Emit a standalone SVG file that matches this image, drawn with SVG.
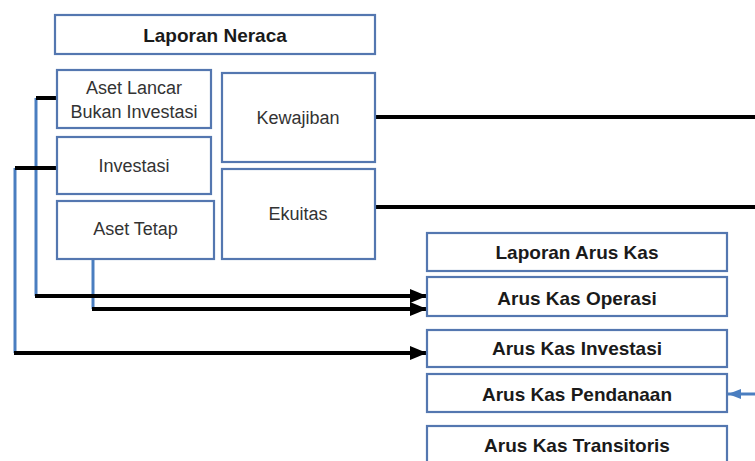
<svg xmlns="http://www.w3.org/2000/svg" width="755" height="461" viewBox="0 0 755 461">
<defs>
<style>
.box{fill:#fff;stroke:#5477b0;stroke-width:2.2}
.t{font-family:"Liberation Sans",Arial,sans-serif;font-size:18px;fill:#333;text-anchor:middle}
.b{font-family:"Liberation Sans",Arial,sans-serif;font-size:19px;font-weight:bold;fill:#1a1a1a;text-anchor:middle}
.k{fill:none;stroke:#000;stroke-width:4}
.bl{fill:none;stroke:#4a7ec0;stroke-width:3}
</style>
<marker id="ah" markerUnits="userSpaceOnUse" markerWidth="18" markerHeight="14" refX="17" refY="7" orient="auto">
<path d="M0,0 L17,7 L0,14 Z" fill="#000"/>
</marker>
<marker id="ahb" markerUnits="userSpaceOnUse" markerWidth="14" markerHeight="10" refX="13" refY="5" orient="auto">
<path d="M0,0 L13,5 L0,10 Z" fill="#4a7ec0"/>
</marker>
</defs>
<rect width="755" height="461" fill="#fff"/>
<g id="connectors">
<path class="k" d="M375,117 H755"/>
<path class="k" d="M375,207 H755"/>
<path class="bl" d="M36,98 V296"/>
<path class="bl" d="M15,168 V353"/>
<path class="bl" d="M93,259 V309"/>
<path class="k" d="M36,98 H57"/>
<path class="k" d="M15,168 H57"/>
<path class="k" d="M35,296 H427" marker-end="url(#ah)"/>
<path class="k" d="M92,309 H427" marker-end="url(#ah)"/>
<path class="k" d="M14,353 H427" marker-end="url(#ah)"/>
<path class="bl" d="M755,394 H728" marker-end="url(#ahb)"/>
</g>
<g id="laporan-neraca"><rect class="box" x="55" y="15" width="320" height="39"/><text class="b" x="215" y="42">Laporan Neraca</text></g>
<g id="aset-lancar"><rect class="box" x="57" y="70" width="154" height="58"/><text class="t" x="134" y="94">Aset Lancar</text><text class="t" x="134" y="118">Bukan Investasi</text></g>
<g id="investasi"><rect class="box" x="57" y="137" width="154" height="57"/><text class="t" x="134" y="172">Investasi</text></g>
<g id="aset-tetap"><rect class="box" x="57" y="201" width="157" height="58"/><text class="t" x="135.5" y="235">Aset Tetap</text></g>
<g id="kewajiban"><rect class="box" x="222" y="73" width="153" height="89"/><text class="t" x="298" y="124">Kewajiban</text></g>
<g id="ekuitas"><rect class="box" x="222" y="169" width="153" height="90"/><text class="t" x="298" y="220">Ekuitas</text></g>
<g id="laporan-arus-kas"><rect class="box" x="427" y="233" width="300" height="38"/><text class="b" x="577" y="259">Laporan Arus Kas</text></g>
<g id="arus-kas-operasi"><rect class="box" x="427" y="277" width="300" height="39"/><text class="b" x="577" y="305">Arus Kas Operasi</text></g>
<g id="arus-kas-investasi"><rect class="box" x="427" y="330" width="300" height="37"/><text class="b" x="577" y="355">Arus Kas Investasi</text></g>
<g id="arus-kas-pendanaan"><rect class="box" x="427" y="374" width="300" height="38"/><text class="b" x="577" y="401">Arus Kas Pendanaan</text></g>
<g id="arus-kas-transitoris"><rect class="box" x="427" y="426" width="300" height="45"/><text class="b" x="577" y="452">Arus Kas Transitoris</text></g>
</svg>
